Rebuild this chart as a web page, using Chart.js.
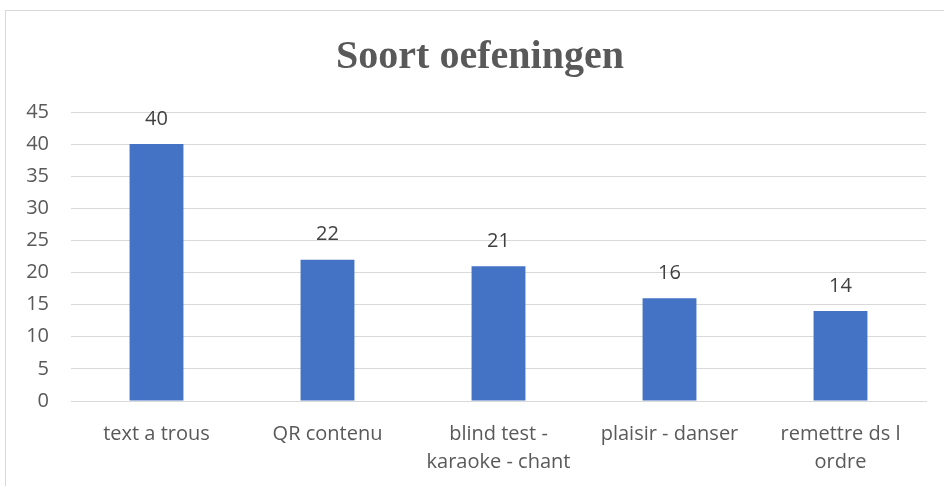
<!DOCTYPE html>
<html><head><meta charset="utf-8">
<script src="https://cdn.jsdelivr.net/npm/chart.js@4/dist/chart.umd.min.js"></script>
<style>
html,body{margin:0;padding:0;background:#fff;overflow:hidden;}
#frame{position:absolute;left:5px;top:10px;width:960px;height:500px;border:1px solid #d9d9d9;box-sizing:border-box;}
#wrap{position:absolute;left:0;top:0;width:944px;height:486px;}
</style></head>
<body>
<div id="frame"></div>
<div id="wrap"><canvas id="c" width="944" height="486"></canvas></div>
<script>
const categories = [["text a trous"], ["QR contenu"], ["blind test -", "karaoke - chant"], ["plaisir - danser"], ["remettre ds l", "ordre"]];
const values = [40, 22, 21, 16, 14];
const yTicks = [0, 5, 10, 15, 20, 25, 30, 35, 40, 45];
const chartTitle = "Soort oefeningen";

const FONT = '"Open Sans", Lato, sans-serif';

const labelPlugin = {
  id: 'valLabels',
  afterDatasetsDraw(chart) {
    const ctx = chart.ctx;
    const meta = chart.getDatasetMeta(0);
    ctx.save();
    ctx.font = '20px ' + FONT;
    ctx.fillStyle = '#404040';
    ctx.textAlign = 'center';
    ctx.textBaseline = 'middle';
    meta.data.forEach((bar, i) => {
      ctx.fillText(String(values[i]), bar.x, bar.y - 25);
    });
    ctx.restore();
  }
};

new Chart(document.getElementById('c'), {
  type: 'bar',
  data: {
    labels: categories,
    datasets: [{
      data: values,
      backgroundColor: '#4472C4',
      borderWidth: 0,
      categoryPercentage: 1,
      barPercentage: 0.315
    }]
  },
  options: {
    responsive: false,
    animation: false,
    layout: { padding: { left: 34, right: 18, top: 20, bottom: 10 } },
    plugins: {
      legend: { display: false },
      tooltip: { enabled: false },
      title: {
        display: true,
        text: chartTitle,
        color: '#595959',
        font: { family: '"Liberation Serif", "Times New Roman", serif', size: 40, weight: 'bold', lineHeight: 1.2 },
        padding: { top: 14, bottom: 30 }
      }
    },
    scales: {
      x: {
        afterFit(scale) { scale.height = 75; },
        grid: { display: false, drawTicks: false },
        border: { color: '#d9d9d9', width: 1 },
        ticks: {
          color: '#595959',
          font: { family: FONT, size: 20, lineHeight: 1.4 },
          padding: 19,
          maxRotation: 0,
          autoSkip: false
        }
      },
      y: {
        min: 0, max: 45,
        afterBuildTicks(scale) { scale.ticks = yTicks.map(v => ({ value: v })); },
        afterFit(scale) {
          scale.width = 37;
          scale._computeLabelArea = () => undefined;
        },
        grid: { color: '#d9d9d9', drawTicks: false },
        border: { display: false },
        ticks: {
          color: '#595959',
          font: { family: FONT, size: 20 },
          padding: 22
        }
      }
    }
  },
  plugins: [labelPlugin]
});
</script>
</body></html>
